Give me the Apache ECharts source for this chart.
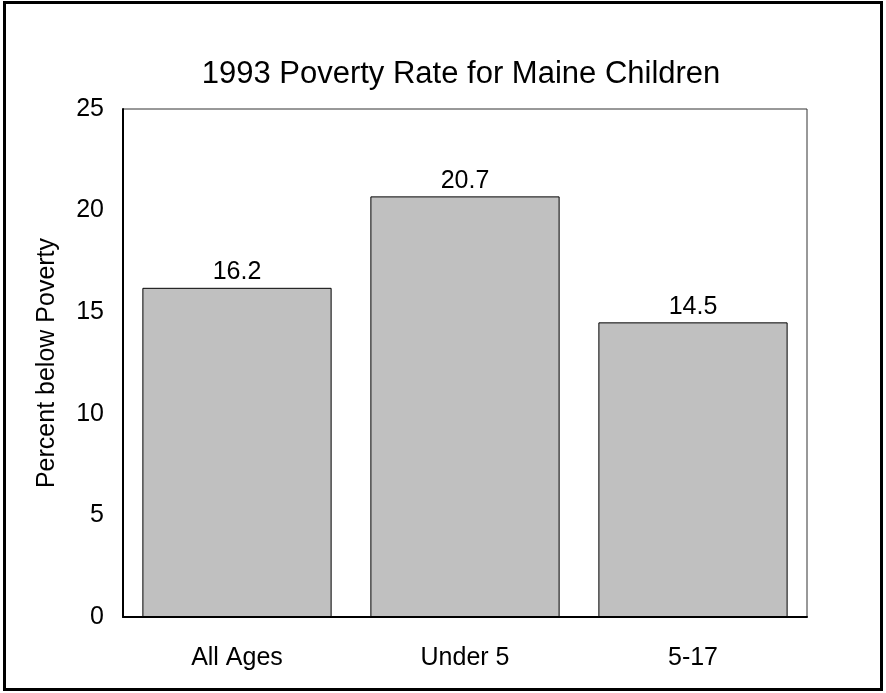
<!DOCTYPE html>
<html>
<head>
<meta charset="utf-8">
<script src="https://cdn.jsdelivr.net/npm/echarts@6/dist/echarts.min.js"></script>
<style>
  html, body { margin: 0; padding: 0; background: #fff; }
  #main { width: 886px; height: 693px; }
</style>
</head>
<body>
<div id="main"></div>
<script>
const categories = ['All Ages', 'Under 5', '5-17'];
const rates = [16.2, 20.7, 14.5];
const yTicks = [0, 5, 10, 15, 20, 25];

const dom = document.getElementById('main');
const myChart = echarts.init(dom);
const font = '"Liberation Sans", Arial, sans-serif';

const option = {
  animation: false,
  backgroundColor: '#fff',
  title: {
    text: '1993 Poverty Rate for Maine Children',
    left: 456,
    top: 54,
    textAlign: 'center',
    textStyle: { fontFamily: font, fontSize: 31, fontWeight: 'normal', color: '#000' }
  },
  graphic: [{
    type: 'rect',
    shape: { x: 4.5, y: 2.5, width: 877, height: 687 },
    style: { fill: null, stroke: '#000', lineWidth: 3 },
    silent: true
  }, {
    type: 'rect',
    shape: { x: 123, y: 109, width: 684, height: 508 },
    style: { fill: null, stroke: '#333', lineWidth: 1 },
    z: 0,
    silent: true
  }],
  grid: { left: 123, right: 79, top: 109, bottom: 76 },
  xAxis: {
    type: 'category',
    data: categories,
    axisLine: { lineStyle: { color: '#000', width: 2 } },
    axisTick: { show: false },
    axisLabel: { fontFamily: font, fontSize: 25, color: '#000', margin: 29 }
  },
  yAxis: {
    type: 'value',
    min: yTicks[0],
    max: yTicks[yTicks.length - 1],
    interval: 5,
    name: 'Percent below Poverty',
    nameLocation: 'middle',
    nameGap: 63,
    nameTextStyle: { fontFamily: font, fontSize: 25, color: '#000' },
    axisLine: { show: true, lineStyle: { color: '#000', width: 2 } },
    axisTick: { show: false },
    splitLine: { show: false },
    axisLabel: { fontFamily: font, fontSize: 25, color: '#000', margin: 19 }
  },
  series: [{
    type: 'bar',
    data: rates,
    barCategoryGap: '17%',
    itemStyle: { color: '#c0c0c0', borderColor: '#000', borderWidth: 1 },
    label: {
      show: true,
      position: 'top',
      distance: 3,
      fontFamily: font,
      fontSize: 25,
      color: '#000'
    }
  }]
};

myChart.setOption(option);
window.addEventListener('resize', myChart.resize);
</script>
</body>
</html>
